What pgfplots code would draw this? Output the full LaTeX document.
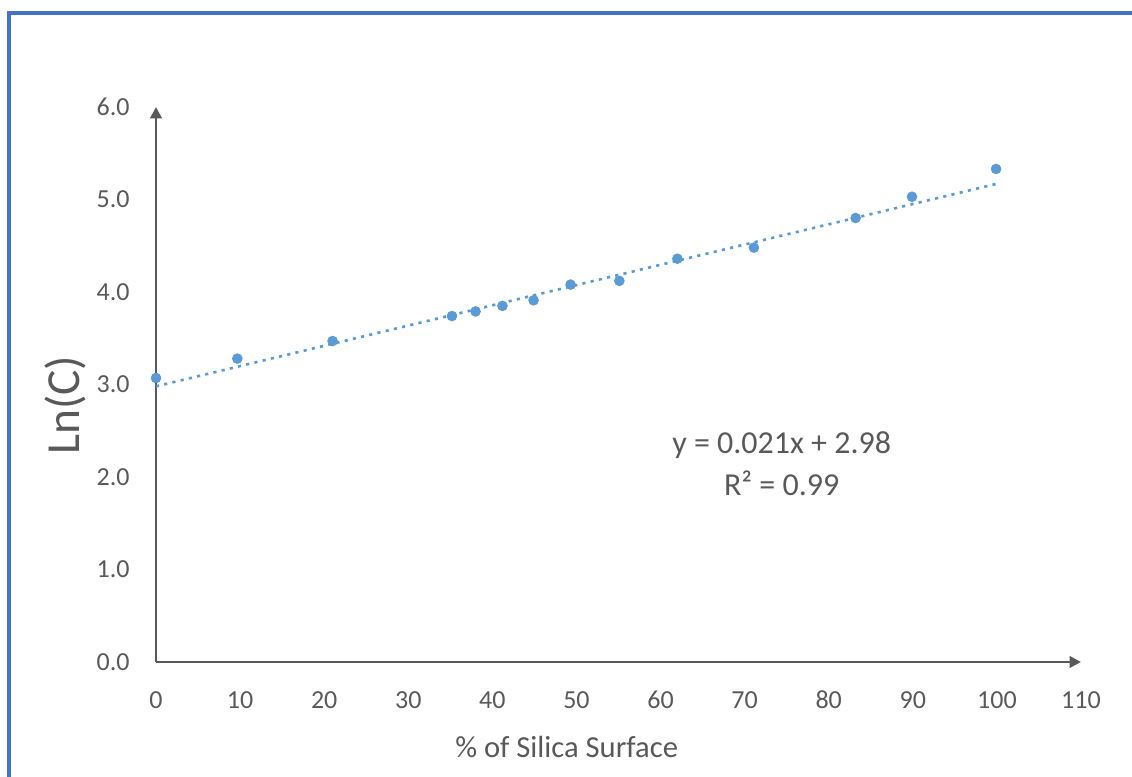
\documentclass[border=0pt]{standalone}
\usepackage{fontspec}
\setmainfont{Carlito}
\usepackage{pgfplots}
\pgfplotsset{compat=1.18}
\usetikzlibrary{arrows.meta}

\definecolor{txtgray}{RGB}{89,89,89}
\definecolor{ptblue}{RGB}{91,155,213}
\definecolor{framebl}{RGB}{68,114,196}

\begin{document}
\begin{tikzpicture}
% canvas in px: 1px = 0.02cm (1132 x 777)
\useasboundingbox (0,0) rectangle (22.64,15.54);
\draw[framebl, line width=0.08cm] (0.18,-0.2) -- (0.18,15.28) -- (23,15.28);

\begin{axis}[
    at={(3.12cm,2.30cm)}, anchor=south west,
    scale only axis,
    width=18.5cm, height=11.1cm,
    xmin=0, xmax=110, ymin=0, ymax=6,
    axis lines=left,
    axis line style={txtgray, line width=1.7pt, -{Triangle[width=6.5pt,length=6.5pt]}},
    major tick length=0pt,
    xtick={0,10,...,110},
    ytick={0,1,...,6},
    yticklabel style={/pgf/number format/fixed, /pgf/number format/precision=1,
        /pgf/number format/fixed zerofill, anchor=east, inner sep=0pt, xshift=-0.52cm},
    xticklabel style={anchor=center, inner sep=0pt, yshift=-0.76cm},
    /pgf/number format/assume math mode=true,
    tick label style={txtgray, font=\fontsize{14.8}{17}\selectfont},
    xlabel={\% of Silica Surface},
    ylabel={Ln(C)},
    xlabel style={at={(axis description cs:0.444,-0.153)}, anchor=center,
        txtgray, font=\fontsize{17.4}{20}\selectfont},
    ylabel style={at={(axis description cs:-0.098,0.463)}, anchor=center, rotate=0,
        txtgray, font=\fontsize{27}{30}\selectfont},
    clip=false,
]
% linear trendline
\addplot[ptblue, line width=1.5pt, dash pattern=on 1.8pt off 3pt] coordinates {
    (0,2.98) (100,5.17)
};
\addplot[only marks, mark=*, mark size=2.8pt, ptblue, mark options={draw=ptblue, fill=ptblue}] coordinates {
    (0,3.07) (9.67,3.28) (21.0,3.47) (35.2,3.74) (38.0,3.79) (41.2,3.85)
    (44.9,3.91) (49.3,4.08) (55.1,4.12) (62.0,4.36) (71.1,4.48) (83.2,4.80)
    (89.9,5.03) (99.9,5.33)
};
\node[txtgray, align=center, font=\fontsize{18.2}{24}\selectfont] at (axis cs:74.4,2.14)
    {y = 0.021x + 2.98\\R² = 0.99};
\end{axis}
\end{tikzpicture}
\end{document}
